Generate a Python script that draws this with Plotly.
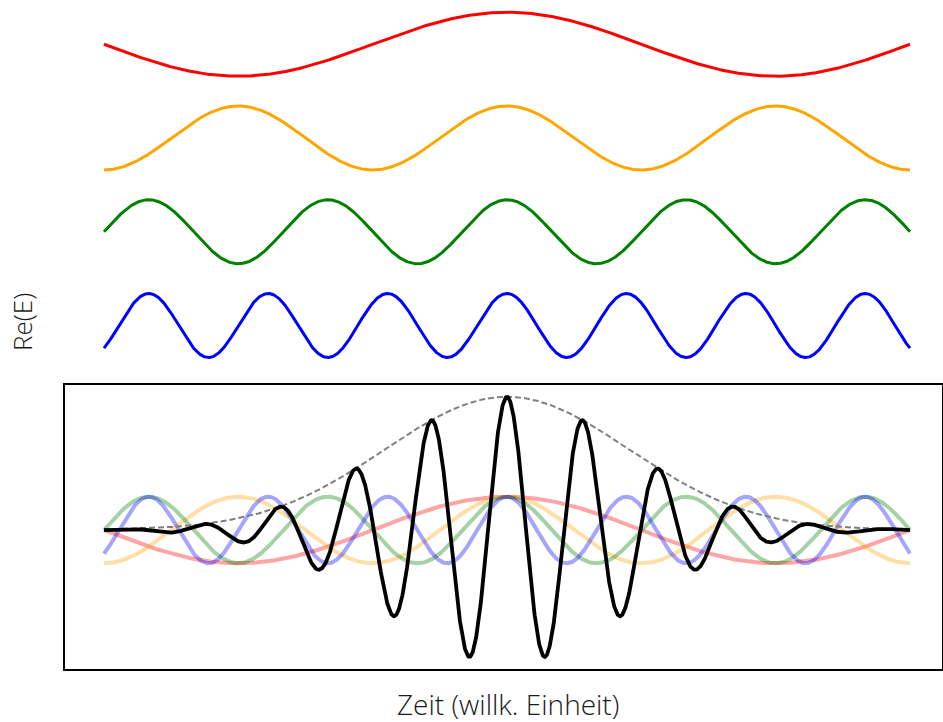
import numpy as np
import plotly.graph_objects as go

# Component waves (angular wavenumber in units of pi over the time window t in [-1, 1])
wave_names = ["rot", "orange", "grün", "blau"]
wave_colors = ["#ff0000", "#ffa500", "#008000", "#0000ff"]
wave_k_over_pi = [1.5, 3.0, 4.5, 6.75]
wave_offsets = [8.79, 5.86, 2.93, 0.0]   # vertical stacking in the upper panel

# Wave packet shown in the lower panel
packet_amplitude = 4.0
packet_sigma = 0.302
packet_k = 33.3

t = np.linspace(-1.0, 1.0, 2400)

W, H = 943, 722
px_x0, px_x1 = 65, 942          # frame of lower panel (pixels)
px_y0, px_y1 = 385, 669
# data t=-1..1 spans 104..910 px
scale = (910 - 104) / 2.0
xr = [-1 - (104 - px_x0) / scale, 1 + (px_x1 - 910) / scale]

fig = go.Figure()

# Upper panel: stacked single waves
for name, col, k, off in zip(wave_names, wave_colors, wave_k_over_pi, wave_offsets):
    fig.add_trace(go.Scatter(
        x=t, y=np.cos(k * np.pi * t) + off, mode="lines",
        line=dict(color=col, width=3), xaxis="x", yaxis="y",
        hoverinfo="skip", showlegend=False, name=name))

# Lower panel: faded components
for name, col, k in zip(wave_names, wave_colors, wave_k_over_pi):
    fig.add_trace(go.Scatter(
        x=t, y=np.cos(k * np.pi * t), mode="lines",
        line=dict(color=col, width=4), opacity=0.35,
        xaxis="x", yaxis="y2", hoverinfo="skip", showlegend=False, name=name))

envelope = packet_amplitude * np.exp(-t**2 / (2 * packet_sigma**2))
fig.add_trace(go.Scatter(
    x=t, y=envelope, mode="lines",
    line=dict(color="#808080", width=2, dash="6px,3px"),
    xaxis="x", yaxis="y2", hoverinfo="skip", showlegend=False))

fig.add_trace(go.Scatter(
    x=t, y=envelope * np.cos(packet_k * t), mode="lines",
    line=dict(color="#000000", width=3.8),
    xaxis="x", yaxis="y2", hoverinfo="skip", showlegend=False))

# Axis geometry
top_px0, top_px1 = 0, 380
top_center_px = 325.5
top_unit = 32.0
bot_center_px = 530.0
bot_unit = 33.3

hidden = dict(showgrid=False, zeroline=False, showticklabels=False, ticks="")

fig.update_layout(
    width=W, height=H, autosize=False,
    margin=dict(l=0, r=0, t=0, b=0),
    paper_bgcolor="white", plot_bgcolor="white",
    font=dict(family="Open Sans", color="#1a1a1a"),
    xaxis=dict(domain=[px_x0 / W, px_x1 / W], range=xr, anchor="y2",
               showline=True, mirror=True, linecolor="#000000", linewidth=2,
               **hidden),
    yaxis=dict(domain=[1 - top_px1 / H, 1 - top_px0 / H],
               range=[-(top_px1 - top_center_px) / top_unit,
                      (top_center_px - top_px0) / top_unit],
               anchor="x", showline=False, **hidden),
    yaxis2=dict(domain=[1 - px_y1 / H, 1 - px_y0 / H],
                range=[-(px_y1 - bot_center_px) / bot_unit,
                       (bot_center_px - px_y0) / bot_unit],
                anchor="x", showline=True, mirror=True,
                linecolor="#000000", linewidth=2, **hidden),
    annotations=[
        dict(text="Zeit (willk. Einheit)", xref="paper", yref="paper",
             x=508 / W, y=1 - 704 / H, xanchor="center", yanchor="middle",
             showarrow=False, font=dict(size=28, weight=300)),
        dict(text="Re(E)", xref="paper", yref="paper",
             x=22 / W, y=1 - 322 / H, xanchor="center", yanchor="middle",
             textangle=-90, showarrow=False, font=dict(size=26, weight=300)),
    ],
)

fig.write_html("out.html")
